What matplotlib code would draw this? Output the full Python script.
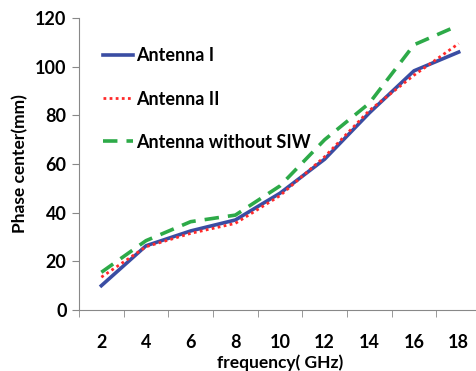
import matplotlib.pyplot as plt
import numpy as np

plt.rcParams['font.family'] = ['Lato', 'DejaVu Sans']
plt.rcParams['font.weight'] = 'bold'
plt.rcParams['axes.labelweight'] = 'bold'

freq = ['2', '4', '6', '8', '10', '12', '14', '16', '18']
ant1 = [10, 26.4, 32.5, 37, 48, 62, 81, 98.3, 106]
ant2 = [13.5, 26, 31.5, 35.6, 47, 63, 82, 96.5, 109.5]
no_siw = [15.5, 28.5, 36.3, 39, 51, 70, 85, 109, 117]

fig = plt.figure(figsize=(4.76, 3.71), dpi=100)
ax = fig.add_axes([0.166, 0.1644, 0.8445, 0.787])

x = np.arange(1, len(freq) + 1)
ax.plot(x, ant1, color='#3A4DA3', lw=2.6, label='Antenna I')
ax.plot(x, ant2, color='#FF2A2A', lw=2.0, ls=(0, (1, 1.2)), label='Antenna II')
ax.plot(x, no_siw, color='#2DAA48', lw=2.6, ls=(0, (4, 2.5)), label='Antenna without SIW')

ax.set_xlim(0.5, len(freq) + 0.5)
ax.set_ylim(0, 120)
ax.set_yticks(range(0, 121, 20))
ax.set_xticks(x)
ax.set_xticklabels(freq)
ax.set_xticks(np.arange(0.5, len(freq) + 0.5, 1), minor=True)
ax.tick_params(axis='x', which='major', length=0, pad=17, labelsize=13)
ax.tick_params(axis='x', which='minor', length=5, color='#888888')
ax.tick_params(axis='y', length=5, color='#888888', labelsize=13, pad=4)

for s in ['top', 'right']:
    ax.spines[s].set_visible(False)
for s in ['left', 'bottom']:
    ax.spines[s].set_color('#888888')

ax.set_xlabel('frequency( GHz)', fontsize=12.5, labelpad=3)
ax.set_ylabel('Phase center(mm)', fontsize=12.5, labelpad=5)

ax.legend(loc='upper left', frameon=False, fontsize=13, handlelength=1.65,
          handletextpad=0.15, labelspacing=1.45, bbox_to_anchor=(0.02, 0.955))

fig.savefig('out.png', dpi=100)
